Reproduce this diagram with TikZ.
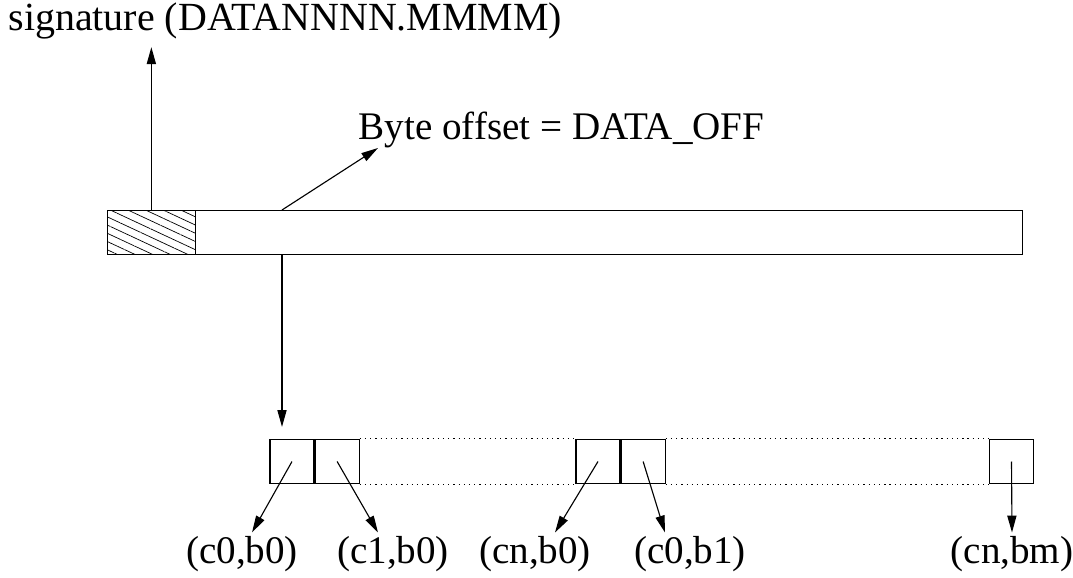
\documentclass[tikz,border=0pt]{standalone}
\usepackage{fontspec}
\setmainfont{Liberation Serif}
\usetikzlibrary{calc,positioning,patterns.meta,arrows.meta}

\tikzset{
  lbl/.style={inner sep=2pt, font=\fontsize{27.8}{33}\selectfont},
  cell/.style={draw, minimum size=1.1cm, inner sep=0pt},
  link/.style={dash pattern=on 0.9pt off 2.8pt},
}

\begin{document}
\begin{tikzpicture}[x=0.025cm, y=-0.025cm, line width=0.8pt,
  >={Triangle[length=12pt, width=6.5pt]}]
\useasboundingbox (0,0) rectangle (1073,578);

% record and its header
\node[name=bar, draw, minimum width=22.875cm, minimum height=1.1cm, inner sep=0pt, anchor=north west] at (107,210) {};
\node[name=hdr, draw, minimum width=2.2cm, minimum height=1.1cm, inner sep=0pt, anchor=north west,
  pattern={Lines[angle=-25, distance=5.3pt, line width=0.5pt]}] at (bar.north west) {};

\node[name=sig, lbl, anchor=base west, inner sep=0pt, font=\fontsize{28.4}{33}\selectfont] at (8,31) {signature (DATANNNN.MMMM)};
\node[name=off, lbl, anchor=base west, inner sep=0pt] at (358,140) {Byte offset = DATA\_OFF};

\coordinate (offfoot) at (282,210);
\coordinate (offtip) at (378,148);
\coordinate (datafoot) at (282,254);

\draw[->] (hdr.north) -- ($(hdr.north |- sig.south)+(0,7)$);
\draw[->] (offfoot) -- (offtip);

% data cells
\node[name=k1, cell] at (292,461.5) {};
\node[name=k2, cell, right=0pt of k1] {};
\node[name=k3, cell] at (598,461.5) {};
\node[name=k4, cell, right=0pt of k3] {};
\node[name=k5, cell] at (1011.5,461.5) {};

\draw[->] (datafoot) -- ($(datafoot |- k1.north)+(0,-12)$);

\draw[link] (k2.north east) -- (k3.north west);
\draw[link] (k2.south east) -- (k3.south west);
\draw[link] (k4.north east) -- (k5.north west);
\draw[link] (k4.south east) -- (k5.south west);

\node[name=l1, lbl, anchor=base] at (242,563) {(c0,b0)};
\node[name=l2, lbl, anchor=base] at (393,563) {(c1,b0)};
\node[name=l3, lbl, anchor=base] at (535,563) {(cn,b0)};
\node[name=l4, lbl, anchor=base] at (690,563) {(c0,b1)};
\node[name=l5, lbl, anchor=base] at (1012,563) {(cn,bm)};

\draw[->] (k1.center) -- ($(l1.north)+(10,0)$);
\draw[->] (k2.center) -- ($(l2.north)+(-15,0)$);
\draw[->] (k3.center) -- ($(l3.north)+(20,0)$);
\draw[->] (k4.center) -- ($(l4.north)+(-25,0)$);
\draw[->] (k5.center) -- (l5.north);
\end{tikzpicture}
\end{document}
